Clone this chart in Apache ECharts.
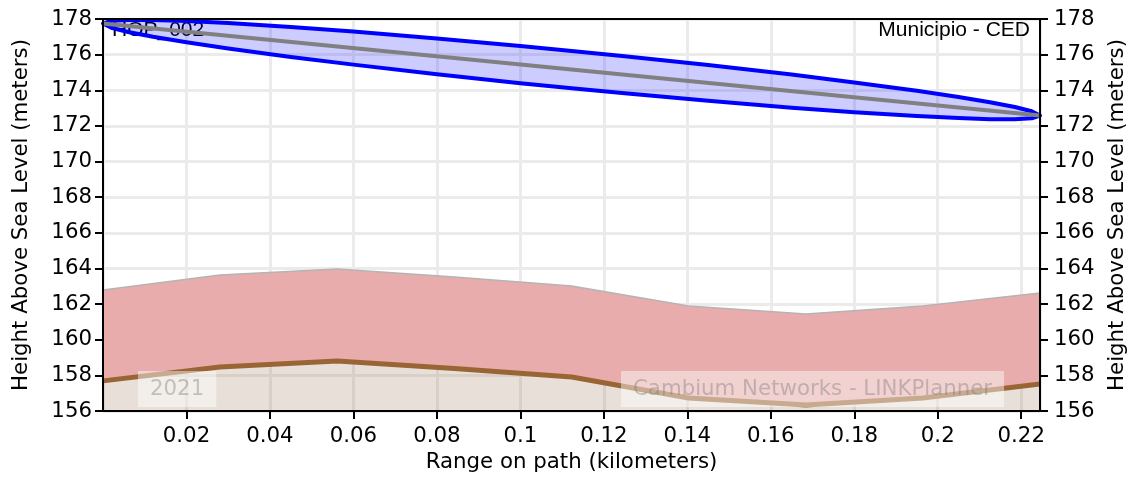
<!DOCTYPE html>
<html><head><meta charset="utf-8">
<script src="https://cdn.jsdelivr.net/npm/echarts@6/dist/echarts.min.js"></script>
<style>html,body{margin:0;padding:0;background:#fff}#c{width:1131px;height:477px}</style>
</head><body><div id="c"></div>
<script>
// ---- data ----
const profileKm     = [0, 0.0280, 0.0561, 0.0842, 0.1123, 0.1403, 0.1684, 0.1964, 0.2245];
const terrainHeight = [157.69, 158.47, 158.81, 158.38, 157.91, 156.73, 156.34, 156.73, 157.52];
const clutterTop    = [162.79, 163.63, 163.97, 163.52, 163.02, 161.89, 161.45, 161.89, 162.62];

const losKm     = [0, 0.2245];
const losHeight = [177.75, 172.58];

const fresnelKm    = [0, 0.002, 0.006, 0.012, 0.02, 0.03, 0.045, 0.06, 0.08, 0.1, 0.1123, 0.125, 0.145, 0.165, 0.18, 0.195, 0.205, 0.2125, 0.2185, 0.2225, 0.2245];
const fresnelUpper = [177.75, 177.90, 177.95, 177.95, 177.89, 177.77, 177.55, 177.30, 176.91, 176.49, 176.21, 175.91, 175.42, 174.88, 174.44, 173.97, 173.62, 173.33, 173.06, 172.82, 172.58];
const fresnelLower = [177.75, 177.51, 177.27, 177.00, 176.69, 176.34, 175.87, 175.44, 174.90, 174.40, 174.11, 173.83, 173.41, 173.02, 172.77, 172.55, 172.44, 172.38, 172.38, 172.43, 172.58];

const yTicks = {min: 156, max: 178, step: 2};
const xTicks = {min: 0, max: 0.2245, step: 0.02};

const labels = {
  xName: 'Range on path (kilometers)',
  yName: 'Height Above Sea Level (meters)',
  left: 'HOP_002',
  right: 'Municipio - CED',
  year: '2021',
  brand: 'Cambium Networks - LINKPlanner'
};

// ---- chart ----
const FONT = 'DejaVu Sans';
const FS = 21.3;
const pairs = (xs, ys) => xs.map((x, i) => [x, ys[i]]);

function band(xs, top, bottom, style) {
  return function (params, api) {
    const pts = [];
    for (let i = 0; i < xs.length; i++) pts.push(api.coord([xs[i], top[i]]));
    for (let i = xs.length - 1; i >= 0; i--) pts.push(api.coord([xs[i], bottom[i]]));
    return {type: 'polygon', shape: {points: pts}, style: style};
  };
}

const axisLineStyle = {color: '#000', width: 2};
const tickLabel = {fontSize: FS, fontFamily: FONT, color: '#000'};
const nameStyle = {fontSize: FS, fontFamily: FONT, color: '#000'};
const xfmt = v => String(+v.toFixed(2));

const chart = echarts.init(document.getElementById('c'), null, {renderer: 'canvas'});
chart.setOption({
  animation: false,
  backgroundColor: '#fff',
  grid: {left: 103, right: 91, top: 19, bottom: 66, containLabel: false, outerBoundsMode: 'none'},
  xAxis: [
    {type: 'value', min: xTicks.min, max: xTicks.max, interval: xTicks.step, position: 'bottom', z: 10,
     axisLine: {show: true, onZero: false, lineStyle: axisLineStyle},
     axisTick: {show: true, length: 8, lineStyle: {color: '#000', width: 2}},
     axisLabel: Object.assign({margin: 15, showMinLabel: false, showMaxLabel: false, formatter: xfmt}, tickLabel),
     splitLine: {show: false},
     name: labels.xName, nameLocation: 'middle', nameGap: 40, nameTextStyle: nameStyle},
    {type: 'value', min: xTicks.min, max: xTicks.max, interval: xTicks.step, position: 'top', z: 10,
     axisLine: {show: true, onZero: false, lineStyle: axisLineStyle},
     axisTick: {show: false}, axisLabel: {show: false}, splitLine: {show: false}},
    {type: 'value', min: xTicks.min, max: xTicks.max, interval: xTicks.step, z: 0,
     axisLine: {show: false}, axisTick: {show: false}, axisLabel: {show: false},
     splitLine: {show: true, lineStyle: {color: '#ebebeb', width: 3}}}
  ],
  yAxis: [
    {type: 'value', min: yTicks.min, max: yTicks.max, interval: yTicks.step, position: 'left', z: 10,
     axisLine: {show: true, onZero: false, lineStyle: axisLineStyle},
     axisTick: {show: true, length: 8, lineStyle: {color: '#000', width: 2}},
     axisLabel: Object.assign({margin: 11}, tickLabel),
     splitLine: {show: false},
     name: labels.yName, nameLocation: 'middle', nameRotate: 90, nameGap: 71, nameTextStyle: nameStyle},
    {type: 'value', min: yTicks.min, max: yTicks.max, interval: yTicks.step, position: 'right', z: 10,
     axisLine: {show: true, onZero: false, lineStyle: axisLineStyle},
     axisTick: {show: true, length: 8, lineStyle: {color: '#000', width: 2}},
     axisLabel: Object.assign({margin: 14}, tickLabel),
     splitLine: {show: false},
     name: labels.yName, nameLocation: 'middle', nameRotate: 90, nameGap: 67, nameTextStyle: nameStyle},
    {type: 'value', min: yTicks.min, max: yTicks.max, interval: yTicks.step, z: 0,
     axisLine: {show: false}, axisTick: {show: false}, axisLabel: {show: false},
     splitLine: {show: true, lineStyle: {color: '#ebebeb', width: 3}}}
  ],
  series: [
    {type: 'custom', name: 'clutter', xAxisIndex: 0, yAxisIndex: 0, z: 2, silent: true,
     data: [[profileKm[0], clutterTop[0]]],
     renderItem: band(profileKm, clutterTop, terrainHeight, {fill: '#e8acac', stroke: null})},
    {type: 'line', name: 'clutterTop', xAxisIndex: 0, yAxisIndex: 0, z: 3, silent: true,
     data: pairs(profileKm, clutterTop), showSymbol: false, symbol: 'none',
     lineStyle: {color: '#b4b4b4', width: 1.5}},
    {type: 'line', name: 'terrain', xAxisIndex: 0, yAxisIndex: 0, z: 3, silent: true,
     data: pairs(profileKm, terrainHeight), showSymbol: false, symbol: 'none',
     lineStyle: {color: '#9a6534', width: 5},
     areaStyle: {color: 'rgba(140,100,60,0.2)', opacity: 1, origin: 'start'}},
    {type: 'custom', name: 'fresnel', xAxisIndex: 0, yAxisIndex: 0, z: 4, silent: true,
     data: [[fresnelKm[0], fresnelUpper[0]]],
     renderItem: band(fresnelKm, fresnelUpper, fresnelLower,
       {fill: 'rgba(0,0,255,0.2)', stroke: '#0000ff', lineWidth: 4, lineJoin: 'round'})},
    {type: 'line', name: 'los', xAxisIndex: 0, yAxisIndex: 0, z: 5, silent: true,
     data: pairs(losKm, losHeight), showSymbol: false, symbol: 'none',
     lineStyle: {color: '#808080', width: 4}}
  ],
  graphic: [
    {type: 'text', z: 1, left: 112, top: 20,
     style: {text: labels.left, font: '21px "Liberation Sans"', fill: '#000'}},
    {type: 'text', z: 100, right: 101, top: 20,
     style: {text: labels.right, font: '21px "Liberation Sans"', fill: '#000'}},
    {type: 'text', z: 100, left: 138, top: 371,
     style: {text: labels.year, font: FS + 'px "DejaVu Sans"', fill: 'rgba(120,120,120,0.4)',
             backgroundColor: 'rgba(255,255,255,0.45)', padding: [8, 12, 7, 12]}},
    {type: 'text', z: 100, left: 621, top: 371,
     style: {text: labels.brand, font: FS + 'px "DejaVu Sans"', fill: 'rgba(120,120,120,0.4)',
             backgroundColor: 'rgba(255,255,255,0.45)', padding: [8, 12, 7, 12]}}
  ]
});
</script>
</body></html>
